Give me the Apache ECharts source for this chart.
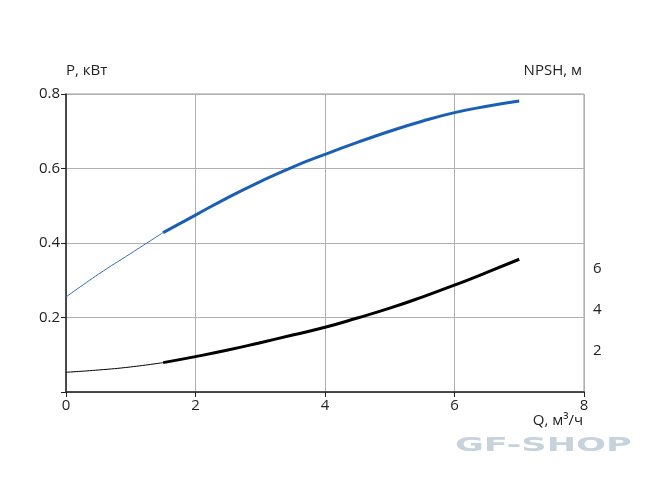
<!DOCTYPE html>
<html><head><meta charset="utf-8">
<script src="https://cdn.jsdelivr.net/npm/echarts@6/dist/echarts.min.js"></script>
<style>html,body{margin:0;padding:0;background:#fff}#c{width:650px;height:486px}</style>
</head><body><div id="c"></div>
<script>
// Flow Q (m3/h)
var qThin = [0, 0.5, 1, 1.5];
var qThick = [1.5, 2, 2.5, 3, 3.5, 4, 4.5, 5, 5.5, 6, 6.5, 7];
// Power P (kW)
var pThin = [0.255, 0.316, 0.372, 0.428];
var pThick = [0.428, 0.475, 0.522, 0.565, 0.604, 0.638, 0.670, 0.700, 0.727, 0.750, 0.767, 0.781];
// NPSH (m)
var nThin = [0.96, 1.07, 1.22, 1.43];
var nThick = [1.43, 1.72, 2.04, 2.40, 2.77, 3.15, 3.60, 4.08, 4.62, 5.20, 5.82, 6.46];
// tick labels
var xTicks = [0, 2, 4, 6, 8];
var pTicks = [0.2, 0.4, 0.6, 0.8];
var npshTicks = [2, 4, 6];

function pairs(xs, ys){ return xs.map(function(x,i){ return [x, ys[i]]; }); }

var FONT = '"Open Sans", "Noto Sans", sans-serif';
var chart = echarts.init(document.getElementById('c'), null, {renderer:'canvas'});
chart.setOption({
  animation:false,
  backgroundColor:'#fff',
  grid:{left:66, right:66, top:94, bottom:94, show:true, borderColor:'#9a9a9a', borderWidth:1},
  xAxis:{type:'value', min:0, max:8, interval:2,
    axisLine:{show:true, onZero:false, lineStyle:{color:'#222', width:1.5}},
    axisTick:{show:true, length:5, lineStyle:{color:'#222'}},
    axisLabel:{color:'#222', fontSize:15, fontFamily:FONT, margin:6,
      formatter:function(v){ return xTicks.indexOf(v)>=0 ? String(v) : ''; }},
    splitLine:{show:true, lineStyle:{color:'#b0b0b0', width:1}}
  },
  yAxis:[
    {type:'value', min:0, max:0.8, interval:0.2, position:'left',
      axisLine:{show:true, onZero:false, lineStyle:{color:'#222', width:1.5}},
      axisTick:{show:true, length:5, lineStyle:{color:'#222'}},
      axisLabel:{color:'#222', fontSize:15, fontFamily:FONT, margin:6,
        formatter:function(v){ var r=Math.round(v*10)/10; return pTicks.indexOf(r)>=0 ? r.toFixed(1) : ''; }},
      splitLine:{show:true, lineStyle:{color:'#b0b0b0', width:1}}
    },
    {type:'value', min:0, max:14.5, interval:2, position:'right',
      axisLine:{show:false}, axisTick:{show:false}, splitLine:{show:false},
      axisLabel:{color:'#222', fontSize:15, fontFamily:FONT, margin:9,
        formatter:function(v){ return npshTicks.indexOf(v)>=0 ? String(v) : ''; }}
    }
  ],
  graphic:[
    {type:'text', left:66, top:63, style:{text:'P, кВт', fill:'#222', font:'15px '+FONT}},
    {type:'text', right:68, top:63, style:{text:'NPSH, м', fill:'#222', font:'15px '+FONT}},
    {type:'text', right:67, top:413, style:{text:'Q, м³/ч', fill:'#222', font:'15px '+FONT}},
    {type:'text', left:455, top:437, scaleX:1.85, style:{text:'GF-SHOP', fill:'#c6d3dd', font:'bold 19px "DejaVu Sans", sans-serif'}}
  ],
  series:[
    {type:'line', yAxisIndex:0, data:pairs(qThin,pThin), smooth:true, symbol:'none', lineStyle:{color:'#2f6db5', width:1}},
    {type:'line', yAxisIndex:0, data:pairs(qThick,pThick), smooth:true, symbol:'none', lineStyle:{color:'#1a5fb4', width:3}},
    {type:'line', yAxisIndex:1, data:pairs(qThin,nThin), smooth:true, symbol:'none', lineStyle:{color:'#000', width:1}},
    {type:'line', yAxisIndex:1, data:pairs(qThick,nThick), smooth:true, symbol:'none', lineStyle:{color:'#000', width:3}}
  ]
});
</script></body></html>
